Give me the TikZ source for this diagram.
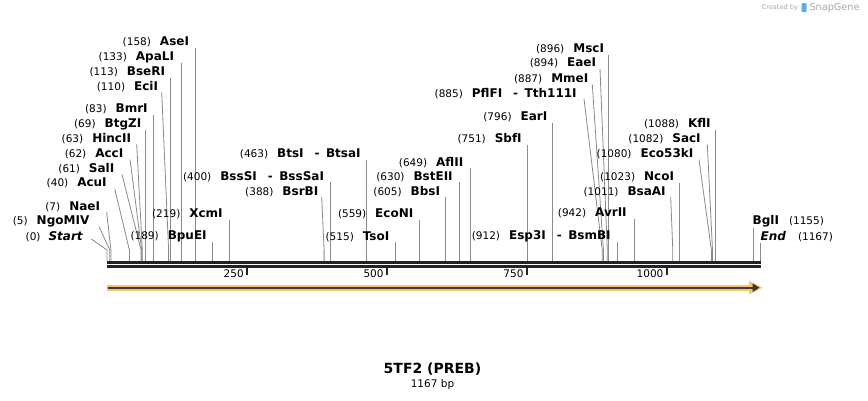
\documentclass[tikz,border=0pt]{standalone}
\usepackage{fontspec}
\setmainfont{DejaVu Sans}
\definecolor{cutgray}{HTML}{8A8A8A}
\definecolor{axisdark}{HTML}{222222}
\definecolor{featorange}{HTML}{F9C66B}
\definecolor{featdark}{HTML}{3A3A3A}
\definecolor{wmgray}{HTML}{A8A8A8}
\definecolor{wmblue}{HTML}{5AAEE6}
\newcommand{\numf}{\fontsize{10.5}{12}\selectfont}
\newcommand{\namef}{\fontsize{12}{14}\selectfont\bfseries}
\newcommand{\dsep}{\hspace{11pt}{\fontsize{12}{14}\selectfont -}\hspace{6.5pt}}
\newcommand{\enzlab}[2]{{\numf(#1)}\hspace{9pt}{\namef #2}}
% #1 id, #2 position, #3 name, #4 label right x, #5 label y, #6 line top x, #7 site x
\newcommand{\enzsite}[7]{%
  \node[enzlabel, anchor=east] (#1) at (#4,#5) {\enzlab{#2}{#3}};
  \coordinate (#1-top) at (#6,#5+5.5);
  \coordinate (#1-bend) at (#7,250);
  \coordinate (#1-site) at (#7,261);
  \draw[cutline] (#1-top) -- (#1-bend) -- (#1-site);
}
\begin{document}
\begin{tikzpicture}[x=1pt,y=-1pt,
  enzlabel/.style={inner sep=0pt, outer sep=0pt, text=black},
  cutline/.style={draw=cutgray, line width=0.8pt},
  axisline/.style={draw=axisdark, line width=2.7pt},
  tickmark/.style={draw=axisdark, line width=1.8pt},
  ticklabel/.style={inner sep=0pt, anchor=east, font=\numf}]
\useasboundingbox (0,0) rectangle (868,400);
\fill[white] (0,0) rectangle (868,400);

% watermark
\node[inner sep=0pt, anchor=west, text=wmgray, font=\fontsize{6.6}{8}\selectfont] (wm1) at (761.5,7.5) {Created by};
\fill[wmblue, rounded corners=1pt] (801.5,3) rectangle (806.5,12);
\node[inner sep=0pt, anchor=west, text=wmgray, font=\fontsize{9.7}{11}\selectfont] (wm2) at (809.3,7.5) {SnapGene};

% axis
\coordinate (axA-l) at (107,262.3); \coordinate (axA-r) at (760.5,262.3);
\coordinate (axB-l) at (107,266.3); \coordinate (axB-r) at (760.5,266.3);
\draw[axisline] (axA-l) -- (axA-r);
\draw[axisline] (axB-l) -- (axB-r);

% ticks
\foreach \p/\xx in {250/246.9,500/386.8,750/526.7,1000/666.6}{
  \coordinate (tk\p-a) at (\xx,267.5);
  \coordinate (tk\p-b) at (\xx,274.5);
  \draw[tickmark] (tk\p-a) -- (tk\p-b);
  \node[ticklabel] (tl\p) at (\xx-3,274) {\p};
}

% feature arrow
\fill[featorange] (107,284.5) rectangle (752,290.9);
\fill[featorange] (749,281) -- (762.5,287.7) -- (749,294.4) -- cycle;
\coordinate (feat-s) at (107.5,287.7);
\coordinate (feat-e) at (754,287.7);
\draw[featdark, line width=2.3pt] (feat-s) -- (feat-e);
\fill[featdark] (752.5,283.3) -- (759.5,287.7) -- (752.5,292.1) -- cycle;

% enzymes, left group
\enzsite{ase}{158}{AseI}{189}{42}{195.4}{195.4}
\enzsite{apa}{133}{ApaLI}{174}{57}{181.4}{181.4}
\enzsite{bse}{113}{BseRI}{165}{72.3}{170.2}{170.2}
\enzsite{eci}{110}{EciI}{158}{86.7}{161.7}{168.6}
\enzsite{bmr}{83}{BmrI}{147.7}{109.3}{153.4}{153.4}
\enzsite{btg}{69}{BtgZI}{141.3}{124.3}{145.6}{145.6}
\enzsite{hinc}{63}{HincII}{131}{138.3}{136.7}{142.3}
\enzsite{acc}{62}{AccI}{123.3}{154}{130}{141.7}
\enzsite{sal}{61}{SalI}{114.3}{169}{122}{141.1}
\enzsite{acu}{40}{AcuI}{106.7}{183.3}{114.7}{129.4}
\enzsite{nae}{7}{NaeI}{100}{206.7}{106.7}{110.9}
\enzsite{ngo}{5}{NgoMIV}{89.3}{221}{99}{109.8}
\node[enzlabel, anchor=east] (start) at (82.7,236.7) {{\numf(0)}\hspace{8pt}{\namef\itshape Start}};
\coordinate (start-top) at (91.3,239);
\coordinate (start-bend) at (107,250);
\coordinate (start-site) at (107,261);
\draw[cutline] (start-top) -- (start-bend) -- (start-site);
\enzsite{xcm}{219}{XcmI}{222.7}{214}{229.6}{229.6}
\enzsite{bpu}{189}{BpuEI}{206.7}{236.7}{212.8}{212.8}

% middle group
\enzsite{bss}{400}{BssSI\dsep BssSaI}{324}{176.7}{330.8}{330.8}
\enzsite{bsr}{388}{BsrBI}{318.3}{191.7}{321.7}{324.1}
\enzsite{bts}{463}{BtsI\dsep BtsaI}{360.7}{154}{366.1}{366.1}
\enzsite{afl}{649}{AflII}{463.3}{162.3}{470.2}{470.2}
\enzsite{bst}{630}{BstEII}{452.7}{176.7}{459.5}{459.5}
\enzsite{bbs}{605}{BbsI}{440}{191.7}{445.6}{445.6}
\enzsite{econ}{559}{EcoNI}{413.3}{214}{419.8}{419.8}
\enzsite{tso}{515}{TsoI}{389.3}{236.7}{395.2}{395.2}

% right group
\enzsite{msc}{896}{MscI}{604}{49}{608.4}{608.4}
\enzsite{eae}{894}{EaeI}{596}{63.3}{600}{607.3}
\enzsite{mme}{887}{MmeI}{588.3}{79}{592.3}{603.4}
\enzsite{pfl}{885}{PflFI\dsep Tth111I}{576.7}{93.3}{584}{602.2}
\enzsite{ear}{796}{EarI}{547.3}{117.3}{552.4}{552.4}
\enzsite{sbf}{751}{SbfI}{521.7}{139}{527.3}{527.3}
\enzsite{kfl}{1088}{KflI}{710.7}{124}{715.8}{715.8}
\enzsite{sac}{1082}{SacI}{700.7}{139}{707.3}{712.5}
\enzsite{eco53}{1080}{Eco53kI}{693.3}{154}{699}{711.4}
\enzsite{nco}{1023}{NcoI}{674}{177.3}{679.5}{679.5}
\enzsite{bsaa}{1011}{BsaAI}{665.7}{191.7}{670.7}{672.8}
\enzsite{avr}{942}{AvrII}{626.7}{213.3}{634.1}{634.1}
\enzsite{esp}{912}{Esp3I\dsep BsmBI}{610.7}{236.7}{617.4}{617.4}

% right-hand labels
\node[enzlabel, anchor=west] (bgl) at (752.7,221.7) {{\namef BglI}\hspace{10pt}{\numf(1155)}};
\coordinate (bgl-top) at (753.3,228);
\coordinate (bgl-site) at (753.3,261);
\draw[cutline] (bgl-top) -- (bgl-site);
\node[enzlabel, anchor=west] (end) at (760.7,236.7) {{\namef\itshape End}\hspace{12pt}{\numf(1167)}};
\coordinate (end-top) at (760.3,243);
\coordinate (end-site) at (760.3,261);
\draw[cutline] (end-top) -- (end-site);

% title
\node[inner sep=0pt, font=\fontsize{14}{16}\selectfont\bfseries] (title) at (432.5,369) {5TF2 (PREB)};
\node[inner sep=0pt, font=\fontsize{10.5}{12}\selectfont] (len) at (432.5,384.5) {1167 bp};
\end{tikzpicture}
\end{document}
